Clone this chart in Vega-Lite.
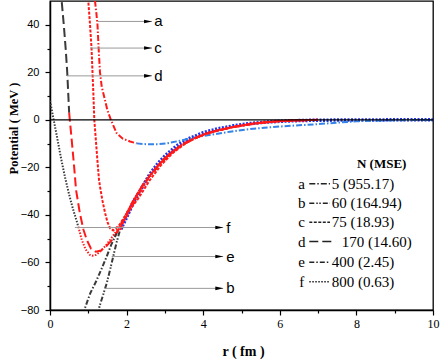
{
"$schema":"https://vega.github.io/schema/vega-lite/v6.json",
"width":383,"height":309,
"autosize":{"type":"none"},
"padding":{"left":50,"top":1,"right":10,"bottom":51},
"config":{"view":{"stroke":"#000","strokeWidth":1.3}},
"datasets":{
"curves":[
{"s":"a1","k":"a","c":"r","x":1.16,"y":55},{"s":"a1","k":"a","c":"r","x":1.175,"y":50},{"s":"a1","k":"a","c":"r","x":1.21,"y":45},{"s":"a1","k":"a","c":"r","x":1.24,"y":40},{"s":"a1","k":"a","c":"r","x":1.27,"y":30},{"s":"a1","k":"a","c":"r","x":1.305,"y":20},{"s":"a1","k":"a","c":"r","x":1.35,"y":14},{"s":"a1","k":"a","c":"r","x":1.41,"y":10},{"s":"a1","k":"a","c":"r","x":1.5,"y":4},{"s":"a1","k":"a","c":"r","x":1.59,"y":0},{"s":"a1","k":"a","c":"r","x":1.74,"y":-5.6},{"s":"a1","k":"a","c":"r","x":1.9,"y":-7.9},{"s":"a1","k":"a","c":"r","x":2.09,"y":-9.1},{"s":"a1","k":"a","c":"r","x":2.26,"y":-9.9},
{"s":"a2","k":"a","c":"b","x":2.26,"y":-9.9},{"s":"a2","k":"a","c":"b","x":2.45,"y":-10.2},{"s":"a2","k":"a","c":"b","x":2.61,"y":-10.3},{"s":"a2","k":"a","c":"b","x":2.85,"y":-10.2},{"s":"a2","k":"a","c":"b","x":3.05,"y":-9.9},{"s":"a2","k":"a","c":"b","x":3.39,"y":-8.8},{"s":"a2","k":"a","c":"b","x":3.7,"y":-7.7},{"s":"a2","k":"a","c":"b","x":3.92,"y":-7.0},{"s":"a2","k":"a","c":"b","x":4.3,"y":-6.0},{"s":"a2","k":"a","c":"b","x":4.7,"y":-5.0},{"s":"a2","k":"a","c":"b","x":5.2,"y":-3.9},{"s":"a2","k":"a","c":"b","x":5.6,"y":-3.3},{"s":"a2","k":"a","c":"b","x":6.0,"y":-2.8},{"s":"a2","k":"a","c":"b","x":6.5,"y":-2.3},{"s":"a2","k":"a","c":"b","x":7.0,"y":-1.8},{"s":"a2","k":"a","c":"b","x":7.5,"y":-1.2},{"s":"a2","k":"a","c":"b","x":8.0,"y":-0.6},{"s":"a2","k":"a","c":"b","x":8.5,"y":-0.35},{"s":"a2","k":"a","c":"b","x":9.0,"y":-0.2},{"s":"a2","k":"a","c":"b","x":9.5,"y":-0.1},{"s":"a2","k":"a","c":"b","x":10,"y":-0.05},
{"s":"b1","k":"b","c":"k","x":1.27,"y":-82},{"s":"b1","k":"b","c":"k","x":1.29,"y":-78.6},{"s":"b1","k":"b","c":"k","x":1.38,"y":-74},{"s":"b1","k":"b","c":"k","x":1.48,"y":-68.8},{"s":"b1","k":"b","c":"k","x":1.57,"y":-63},{"s":"b1","k":"b","c":"k","x":1.65,"y":-57.5},{"s":"b1","k":"b","c":"k","x":1.74,"y":-51.5},{"s":"b1","k":"b","c":"k","x":1.83,"y":-46.3},
{"s":"b2","k":"b","c":"r","x":1.83,"y":-46.3},{"s":"b2","k":"b","c":"r","x":1.95,"y":-42},{"s":"b2","k":"b","c":"r","x":2.1,"y":-37.5},{"s":"b2","k":"b","c":"r","x":2.3,"y":-31.5},{"s":"b2","k":"b","c":"r","x":2.55,"y":-25},{"s":"b2","k":"b","c":"r","x":2.85,"y":-19},{"s":"b2","k":"b","c":"r","x":3.2,"y":-13.5},{"s":"b2","k":"b","c":"r","x":3.6,"y":-9},{"s":"b2","k":"b","c":"r","x":4.1,"y":-5.6},{"s":"b2","k":"b","c":"r","x":4.7,"y":-3.2},{"s":"b2","k":"b","c":"r","x":5.3,"y":-1.5},{"s":"b2","k":"b","c":"r","x":6.0,"y":-0.5},{"s":"b2","k":"b","c":"r","x":6.5,"y":-0.2},{"s":"b2","k":"b","c":"r","x":7,"y":0},
{"s":"c1","k":"c","c":"r","x":0.99,"y":55},{"s":"c1","k":"c","c":"r","x":1.0,"y":50},{"s":"c1","k":"c","c":"r","x":1.045,"y":40},{"s":"c1","k":"c","c":"r","x":1.085,"y":30},{"s":"c1","k":"c","c":"r","x":1.11,"y":20},{"s":"c1","k":"c","c":"r","x":1.135,"y":10},{"s":"c1","k":"c","c":"r","x":1.157,"y":0},{"s":"c1","k":"c","c":"r","x":1.2,"y":-9},{"s":"c1","k":"c","c":"r","x":1.24,"y":-17.5},{"s":"c1","k":"c","c":"r","x":1.28,"y":-25.3},{"s":"c1","k":"c","c":"r","x":1.31,"y":-28.5},{"s":"c1","k":"c","c":"r","x":1.37,"y":-34},{"s":"c1","k":"c","c":"r","x":1.44,"y":-39.3},{"s":"c1","k":"c","c":"r","x":1.5,"y":-43},{"s":"c1","k":"c","c":"r","x":1.57,"y":-45.6},{"s":"c1","k":"c","c":"r","x":1.65,"y":-46.5},{"s":"c1","k":"c","c":"r","x":1.8,"y":-44.5},{"s":"c1","k":"c","c":"r","x":2.0,"y":-39.5},{"s":"c1","k":"c","c":"r","x":2.3,"y":-33.2},{"s":"c1","k":"c","c":"r","x":2.6,"y":-25.5},{"s":"c1","k":"c","c":"r","x":2.9,"y":-19},{"s":"c1","k":"c","c":"r","x":3.2,"y":-14},{"s":"c1","k":"c","c":"r","x":3.6,"y":-9.2},{"s":"c1","k":"c","c":"r","x":4.1,"y":-5.6},{"s":"c1","k":"c","c":"r","x":4.8,"y":-3.0},{"s":"c1","k":"c","c":"r","x":5.5,"y":-1.3},{"s":"c1","k":"c","c":"r","x":6.0,"y":-0.6},{"s":"c1","k":"c","c":"r","x":6.5,"y":-0.2},{"s":"c1","k":"c","c":"r","x":7,"y":0},
{"s":"d1","k":"d","c":"k","x":0.29,"y":55},{"s":"d1","k":"d","c":"k","x":0.305,"y":50},{"s":"d1","k":"d","c":"k","x":0.36,"y":40},{"s":"d1","k":"d","c":"k","x":0.41,"y":29.8},{"s":"d1","k":"d","c":"k","x":0.45,"y":20},{"s":"d1","k":"d","c":"k","x":0.48,"y":9.8},{"s":"d1","k":"d","c":"k","x":0.5,"y":3},
{"s":"d2","k":"d","c":"r","x":0.5,"y":3},{"s":"d2","k":"d","c":"r","x":0.55,"y":-5.6},{"s":"d2","k":"d","c":"r","x":0.59,"y":-12.5},{"s":"d2","k":"d","c":"r","x":0.63,"y":-19.7},{"s":"d2","k":"d","c":"r","x":0.68,"y":-29.5},{"s":"d2","k":"d","c":"r","x":0.78,"y":-39.3},{"s":"d2","k":"d","c":"r","x":0.87,"y":-46},{"s":"d2","k":"d","c":"r","x":0.96,"y":-50.5},{"s":"d2","k":"d","c":"r","x":1.07,"y":-54.2},{"s":"d2","k":"d","c":"r","x":1.2,"y":-55.5},{"s":"d2","k":"d","c":"r","x":1.33,"y":-55},{"s":"d2","k":"d","c":"r","x":1.48,"y":-53},{"s":"d2","k":"d","c":"r","x":1.62,"y":-50.5},{"s":"d2","k":"d","c":"r","x":1.74,"y":-47.5},{"s":"d2","k":"d","c":"r","x":1.85,"y":-44.5},{"s":"d2","k":"d","c":"r","x":2.0,"y":-40},{"s":"d2","k":"d","c":"r","x":2.17,"y":-34.5},{"s":"d2","k":"d","c":"r","x":2.4,"y":-28},{"s":"d2","k":"d","c":"r","x":2.7,"y":-21.5},{"s":"d2","k":"d","c":"r","x":3.0,"y":-16},{"s":"d2","k":"d","c":"r","x":3.4,"y":-11},{"s":"d2","k":"d","c":"r","x":3.8,"y":-7.6},{"s":"d2","k":"d","c":"r","x":4.3,"y":-4.8},{"s":"d2","k":"d","c":"r","x":4.8,"y":-3.0},{"s":"d2","k":"d","c":"r","x":5.3,"y":-1.6},{"s":"d2","k":"d","c":"r","x":6.0,"y":-0.5},{"s":"d2","k":"d","c":"r","x":6.5,"y":-0.2},{"s":"d2","k":"d","c":"r","x":7,"y":0},
{"s":"e1","k":"e","c":"k","x":0.88,"y":-82},{"s":"e1","k":"e","c":"k","x":0.91,"y":-79.3},{"s":"e1","k":"e","c":"k","x":1.05,"y":-73},{"s":"e1","k":"e","c":"k","x":1.22,"y":-67.4},{"s":"e1","k":"e","c":"k","x":1.35,"y":-62.5},{"s":"e1","k":"e","c":"k","x":1.48,"y":-57.5},{"s":"e1","k":"e","c":"k","x":1.6,"y":-52.5},{"s":"e1","k":"e","c":"k","x":1.74,"y":-47.7},
{"s":"e2","k":"e","c":"r","x":1.74,"y":-47.7},{"s":"e2","k":"e","c":"r","x":1.85,"y":-44},{"s":"e2","k":"e","c":"r","x":2.0,"y":-39.5},{"s":"e2","k":"e","c":"r","x":2.17,"y":-34},{"s":"e2","k":"e","c":"r","x":2.4,"y":-28},{"s":"e2","k":"e","c":"r","x":2.7,"y":-21.5},{"s":"e2","k":"e","c":"r","x":3.0,"y":-16.2},{"s":"e2","k":"e","c":"r","x":3.4,"y":-11},{"s":"e2","k":"e","c":"r","x":3.9,"y":-6.8},{"s":"e2","k":"e","c":"r","x":4.4,"y":-4.3},{"s":"e2","k":"e","c":"r","x":5.0,"y":-2.3},{"s":"e2","k":"e","c":"r","x":5.5,"y":-1.2},{"s":"e2","k":"e","c":"r","x":6.0,"y":-0.5},{"s":"e2","k":"e","c":"r","x":6.5,"y":-0.2},{"s":"e2","k":"e","c":"r","x":7,"y":0},
{"s":"f1","k":"f","c":"k","x":0,"y":8},{"s":"f1","k":"f","c":"k","x":0.09,"y":0.5},{"s":"f1","k":"f","c":"k","x":0.175,"y":-6.5},{"s":"f1","k":"f","c":"k","x":0.28,"y":-15.5},{"s":"f1","k":"f","c":"k","x":0.39,"y":-24},{"s":"f1","k":"f","c":"k","x":0.5,"y":-31.5},{"s":"f1","k":"f","c":"k","x":0.6,"y":-37.5},{"s":"f1","k":"f","c":"k","x":0.7,"y":-42.8},{"s":"f1","k":"f","c":"k","x":0.74,"y":-45},
{"s":"f2","k":"f","c":"r","x":0.74,"y":-45},{"s":"f2","k":"f","c":"r","x":0.83,"y":-50.5},{"s":"f2","k":"f","c":"r","x":0.93,"y":-54.5},{"s":"f2","k":"f","c":"r","x":1.04,"y":-56.8},{"s":"f2","k":"f","c":"r","x":1.1,"y":-57.2},{"s":"f2","k":"f","c":"r","x":1.2,"y":-56.8},{"s":"f2","k":"f","c":"r","x":1.31,"y":-55.4},{"s":"f2","k":"f","c":"r","x":1.45,"y":-53},{"s":"f2","k":"f","c":"r","x":1.57,"y":-50.5},{"s":"f2","k":"f","c":"r","x":1.68,"y":-48},{"s":"f2","k":"f","c":"r","x":1.78,"y":-45.5},{"s":"f2","k":"f","c":"r","x":1.91,"y":-42},{"s":"f2","k":"f","c":"r","x":2.17,"y":-34},{"s":"f2","k":"f","c":"r","x":2.52,"y":-25.3},{"s":"f2","k":"f","c":"r","x":2.87,"y":-18.2},{"s":"f2","k":"f","c":"r","x":3.13,"y":-14},{"s":"f2","k":"f","c":"r","x":3.57,"y":-9.1},{"s":"f2","k":"f","c":"r","x":4.09,"y":-5.5},{"s":"f2","k":"f","c":"r","x":4.79,"y":-3.0},{"s":"f2","k":"f","c":"r","x":5.48,"y":-1.2},{"s":"f2","k":"f","c":"r","x":6.0,"y":-0.5},{"s":"f2","k":"f","c":"r","x":6.5,"y":-0.2},{"s":"f2","k":"f","c":"r","x":7,"y":0}
],
"band":[
{"x":1.85,"y":-46},{"x":2.0,"y":-41},{"x":2.2,"y":-34},{"x":2.4,"y":-28.5},{"x":2.6,"y":-23},{"x":2.8,"y":-18.7},{"x":3.0,"y":-15.2},{"x":3.3,"y":-11},{"x":3.6,"y":-8.1},{"x":4.0,"y":-5.4},{"x":4.4,"y":-3.7},{"x":4.8,"y":-2.5},{"x":5.2,"y":-1.6},{"x":5.6,"y":-1.0},{"x":6.0,"y":-0.6},{"x":6.5,"y":-0.3},{"x":7,"y":-0.15},{"x":8,"y":-0.05},{"x":9,"y":0},{"x":10,"y":0}
],
"arrows":[
{"x":1.245,"x2":2.66,"tx":2.56,"lx":2.72,"y":41.4,"l":"a"},
{"x":1.045,"x2":2.66,"tx":2.56,"lx":2.72,"y":30.2,"l":"c"},
{"x":0.44,"x2":2.66,"tx":2.56,"lx":2.72,"y":18.5,"l":"d"},
{"x":0.65,"x2":4.52,"tx":4.42,"lx":4.6,"y":-45.3,"l":"f"},
{"x":1.61,"x2":4.52,"tx":4.42,"lx":4.6,"y":-57.5,"l":"e"},
{"x":1.44,"x2":4.52,"tx":4.42,"lx":4.6,"y":-70.9,"l":"b"}
],
"legend":[
{"k":"a","ltr":"a","y":-26.9,"x":6.77,"x2":7.31,"lx":7.355,"lab":"5 (955.17)"},
{"k":"b","ltr":"b","y":-35.1,"x":6.77,"x2":7.31,"lx":7.355,"lab":"60 (164.94)"},
{"k":"c","ltr":"c","y":-43.1,"x":6.77,"x2":7.31,"lx":7.355,"lab":"75 (18.93)"},
{"k":"d","ltr":"d","y":-51.2,"x":6.77,"x2":7.45,"lx":7.62,"lab":"170 (14.60)"},
{"k":"e","ltr":"e","y":-59.9,"x":6.77,"x2":7.31,"lx":7.355,"lab":"400 (2.45)"},
{"k":"f","ltr":"f","y":-68.1,"x":6.77,"x2":7.31,"lx":7.355,"lab":"800 (0.63)"}
]
},
"resolve":{"axis":{"x":"independent","y":"independent"}},
"layer":[
{"data":{"values":[{"x":5,"y":0}]},"mark":{"type":"point","opacity":0},
 "encoding":{
  "x":{"field":"x","type":"quantitative","scale":{"domain":[0,10],"nice":false,"zero":false},"axis":{"orient":"bottom","values":[1,3,5,7,9],"labels":false,"domain":false,"grid":false,"title":null,"tickSize":3,"tickColor":"#000","tickWidth":1.2}},
  "y":{"field":"y","type":"quantitative","scale":{"domain":[-80,50],"nice":false,"zero":false},"axis":{"orient":"left","values":[-70,-50,-30,-10,10,30],"labels":false,"domain":false,"grid":false,"title":null,"tickSize":3,"tickColor":"#000","tickWidth":1.2}}}},
{"data":{"name":"band"},"mark":{"type":"line","clip":true,"color":"#2433e8","strokeWidth":3.5,"strokeDash":[2,1.5]},
 "encoding":{
  "x":{"field":"x","type":"quantitative","scale":{"domain":[0,10],"nice":false,"zero":false},"axis":null},
  "y":{"field":"y","type":"quantitative","scale":{"domain":[-80,50],"nice":false,"zero":false},"axis":null}}},
{"data":{"name":"curves"},"mark":{"type":"line","clip":true,"strokeWidth":2},
 "encoding":{
  "x":{"field":"x","type":"quantitative","scale":{"domain":[0,10],"nice":false,"zero":false},
   "axis":{"orient":"bottom","values":[0,2,4,6,8,10],"grid":false,"title":"r ( fm )","titleFont":"Liberation Serif","titleFontWeight":"bold","titleFontSize":14,"titleColor":"#000","titleX":193,"titleY":45,"titleBaseline":"alphabetic","titleAlign":"center","labelFont":"Liberation Serif","labelFontSize":12,"labelColor":"#000","labelPadding":3,"labelFlush":false,"tickSize":5,"tickColor":"#000","tickWidth":1.2,"domainColor":"#000","domainWidth":1.5}},
  "y":{"field":"y","type":"quantitative","scale":{"domain":[-80,50],"nice":false,"zero":false},
   "axis":{"orient":"left","values":[-80,-60,-40,-20,0,20,40],"grid":false,"title":"Potential ( MeV )","titleFont":"Liberation Serif","titleFontWeight":"bold","titleFontSize":12.5,"titleColor":"#000","titleX":-37,"titleY":127,"titleAngle":270,"titleBaseline":"middle","titleAlign":"center","labelFont":"Liberation Sans","labelFontSize":11,"labelColor":"#000","labelPadding":6,"labelFlush":false,"tickSize":5,"tickColor":"#000","tickWidth":1.2,"domainColor":"#000","domainWidth":1.5}},
  "detail":{"field":"s"},
  "color":{"field":"c","type":"nominal","scale":{"domain":["r","k","b"],"range":["#ff1a1a","#3a3a3a","#3583e8"]},"legend":null},
  "strokeDash":{"field":"k","type":"nominal","scale":{"domain":["a","b","c","d","e","f"],"range":[[6,2,1.5,2],[5,2,1.5,1.5,1.5,2],[3,1.5],[9,4],[5,2,1.5,2],[1.5,1.5]]},"legend":null}}},
{"data":{"values":[{"y":0}]},"mark":{"type":"rule","color":"#000","strokeWidth":1.3},
 "encoding":{"y":{"field":"y","type":"quantitative","scale":{"domain":[-80,50],"nice":false,"zero":false},"axis":null}}},
{"data":{"name":"arrows"},"mark":{"type":"rule","color":"#9a9a9a","strokeWidth":1},
 "encoding":{
  "x":{"field":"x","type":"quantitative","scale":{"domain":[0,10],"nice":false,"zero":false},"axis":null},
  "x2":{"field":"x2"},
  "y":{"field":"y","type":"quantitative","scale":{"domain":[-80,50],"nice":false,"zero":false},"axis":null}}},
{"data":{"name":"arrows"},"mark":{"type":"point","shape":"M-1,-0.45L1,0L-1,0.45Z","filled":true,"color":"#000","size":64,"opacity":1},
 "encoding":{
  "x":{"field":"tx","type":"quantitative","scale":{"domain":[0,10],"nice":false,"zero":false},"axis":null},
  "y":{"field":"y","type":"quantitative","scale":{"domain":[-80,50],"nice":false,"zero":false},"axis":null}}},
{"data":{"name":"arrows"},"mark":{"type":"text","font":"Liberation Sans","fontSize":15,"align":"left","baseline":"middle","color":"#000"},
 "encoding":{
  "x":{"field":"lx","type":"quantitative","scale":{"domain":[0,10],"nice":false,"zero":false},"axis":null},
  "y":{"field":"y","type":"quantitative","scale":{"domain":[-80,50],"nice":false,"zero":false},"axis":null},
  "text":{"field":"l"}}},
{"data":{"values":[{"x":8.66,"y":-18.7,"t":"N  (MSE)"}]},"mark":{"type":"text","font":"Liberation Serif","fontWeight":"bold","fontSize":13,"align":"center","baseline":"middle","color":"#000"},
 "encoding":{
  "x":{"field":"x","type":"quantitative","scale":{"domain":[0,10],"nice":false,"zero":false},"axis":null},
  "y":{"field":"y","type":"quantitative","scale":{"domain":[-80,50],"nice":false,"zero":false},"axis":null},
  "text":{"field":"t"}}},
{"data":{"name":"legend"},"mark":{"type":"rule","color":"#222","strokeWidth":1.5},
 "encoding":{
  "x":{"field":"x","type":"quantitative","scale":{"domain":[0,10],"nice":false,"zero":false},"axis":null},
  "x2":{"field":"x2"},
  "y":{"field":"y","type":"quantitative","scale":{"domain":[-80,50],"nice":false,"zero":false},"axis":null},
  "strokeDash":{"field":"k","type":"nominal","scale":{"domain":["a","b","c","d","e","f"],"range":[[6,2,1.5,2],[5,2,1.5,1.5,1.5,2],[3,1.5],[9,4],[5,2,1.5,2],[1.5,1.5]]},"legend":null}}},
{"data":{"name":"legend"},"mark":{"type":"text","font":"Liberation Serif","fontSize":15,"align":"center","baseline":"middle","color":"#000"},
 "encoding":{
  "x":{"datum":6.57,"type":"quantitative","scale":{"domain":[0,10],"nice":false,"zero":false},"axis":null},
  "y":{"field":"y","type":"quantitative","scale":{"domain":[-80,50],"nice":false,"zero":false},"axis":null},
  "text":{"field":"ltr"}}},
{"data":{"name":"legend"},"mark":{"type":"text","font":"Liberation Serif","fontSize":15,"align":"left","baseline":"middle","color":"#000"},
 "encoding":{
  "x":{"field":"lx","type":"quantitative","scale":{"domain":[0,10],"nice":false,"zero":false},"axis":null},
  "y":{"field":"y","type":"quantitative","scale":{"domain":[-80,50],"nice":false,"zero":false},"axis":null},
  "text":{"field":"lab"}}}
]
}
